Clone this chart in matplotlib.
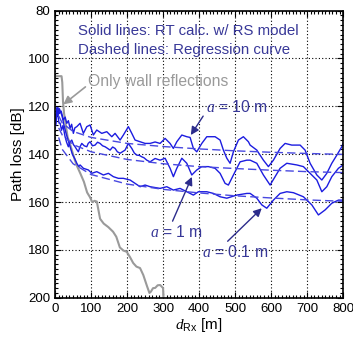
import numpy as np
import matplotlib
matplotlib.use('Agg')
import matplotlib.pyplot as plt
from matplotlib.ticker import MultipleLocator

plt.rcParams['font.family'] = ['Liberation Sans', 'DejaVu Sans']
plt.rcParams['mathtext.fontset'] = 'custom'
plt.rcParams['mathtext.it'] = 'Liberation Serif:italic'
plt.rcParams['mathtext.rm'] = 'Liberation Sans'

# only wall reflections (gray)
d_wall = [0, 18, 20, 22, 25, 30, 35, 40, 43, 50, 55, 61, 70, 80, 89, 97, 103, 110, 116,
          120, 125, 135, 148, 161, 170, 180, 190, 199, 208, 217, 226, 236, 245, 255,
          262, 266, 272, 278, 285, 292, 297, 300, 301]
pl_wall = [107.4, 107.4, 110, 118, 123, 128, 133, 135, 136.5, 140, 142.5, 145, 148, 151.5,
           156, 158, 160, 159.5, 159.8, 163, 167, 169, 170.5, 172.4, 174.5, 179, 180.3,
           180.8, 183, 185.5, 187, 187.6, 190.5, 195, 198, 197.5, 196, 195.9, 194.8,
           194.7, 195.5, 196, 200]

# RT calc, a = 10 m
d_a10 = [2, 5, 8, 12, 17, 23, 28, 32.5, 37, 41.7, 46, 50.8, 55, 60.3, 69.4, 78.6, 88.1,
         97.2, 106.4, 115.8, 129.7, 143.6, 157.5, 166.7, 180.6, 189.7, 203.6, 213.1,
         222.2, 236.1, 250, 263.9, 277.8, 291.7, 305.6, 319.4, 328.6, 338.1, 352, 365.8,
         375, 384.2, 393.6, 407.5, 421.4, 444.4, 458.3, 467.5, 477, 486.1, 495.3, 509.2,
         523, 537, 541.7, 560.3, 578.6, 592.5, 606.4, 625, 638.9, 657.5, 680.6, 694.4,
         708.3, 727, 740.9, 754.7, 768.6, 782.5, 796.4, 800]
pl_a10 = [127, 121, 120.5, 123, 122, 125.7, 124.5, 127.1, 126, 129.2, 127.5, 131.3, 129,
          128.5, 127.1, 131.3, 128.5, 127.8, 132.0, 129.9, 131.3, 130.6, 132.7, 131.3,
          134.1, 132.0, 128.5, 131.3, 134.1, 134.8, 135.5, 135.5, 134.9, 135.5, 133.4,
          135.5, 137.6, 134.8, 132.0, 132.7, 133.0, 137.6, 139.0, 135.5, 132.7, 132.7,
          134.1, 138.3, 141.7, 143.8, 139.0, 134.1, 132.7, 134.8, 136.2, 138.3, 142.5,
          145.2, 142.5, 137.6, 135.5, 136.2, 136.2, 138.3, 143.8, 148.7, 150.8, 148.0,
          143.8, 140.4, 136.9, 135.5]

# RT calc, a = 1 m
d_a1 = [2, 5, 8, 11, 13.9, 18, 22, 27.8, 32, 36.9, 41, 46.4, 51, 55.6, 60, 64.7, 69, 74.2,
        81, 88.1, 92, 97.2, 104, 111.1, 118, 125, 132, 138.9, 145, 152.8, 160, 166.7, 173,
        180.6, 187, 194.4, 203.6, 208, 213.1, 220, 227, 234, 240.8, 247, 254.7, 263.9,
        277.8, 291.7, 305.6, 319.4, 328.6, 338.1, 352, 365.8, 379.7, 393.6, 407.5, 425.8,
        444.4, 458.3, 472.2, 481.4, 495.3, 513.9, 532.5, 541.7, 560.3, 578.6, 597.2,
        611.1, 625, 643.6, 671.4, 689.7, 708.3, 727, 740.9, 754.7, 768.6, 787, 800]
pl_a1 = [124, 120.5, 124, 127, 127.0, 130, 128, 132.7, 135, 136.9, 135, 134.1, 136, 136.9,
         138, 139.0, 137, 135.5, 136.5, 136.9, 135.5, 134.8, 136.5, 136.2, 135, 135.5,
         136.5, 136.9, 137.5, 138.3, 137, 137.6, 139, 139.6, 139, 138.3, 135.5, 136.5,
         137.6, 139.5, 140.4, 140.5, 141.1, 141.5, 142.5, 143.2, 141.8, 142.5, 141.7,
         145.9, 149.4, 145.9, 141.7, 143.8, 148.7, 146.6, 145.2, 145.2, 145.9, 148.0,
         152.2, 152.9, 148.7, 143.2, 142.5, 142.5, 143.8, 148.7, 152.9, 149.4, 145.9,
         143.8, 144.5, 145.2, 148.0, 150.8, 155.7, 153.6, 149.4, 145.9, 144.5]

# RT calc, a = 0.1 m
d_a01 = [2, 5, 8, 12, 19.4, 25, 30, 36, 42, 48, 55, 61, 66, 69.4, 78.6, 92.5, 101.9, 115.8,
         134.2, 148.1, 161.9, 175.8, 189.7, 208.3, 222.2, 236.1, 250, 263.9, 291.7, 310.3,
         328.6, 347.2, 365.8, 384.2, 398, 421.4, 439.7, 458.3, 477, 504.7, 532.5, 541.7,
         560.3, 574.2, 588, 606.4, 625, 643.6, 662, 689.7, 713.1, 731.4, 750, 768.6, 787,
         800]
pl_a01 = [128, 122, 124, 121, 124, 128, 131, 134, 137, 140, 142, 144, 145.2, 144.5, 145.9,
          146.6, 148.0, 147.3, 148.7, 148.0, 149.4, 150.1, 150.1, 150.8, 152.2, 153.6,
          152.9, 153.6, 154.3, 153.6, 155.0, 154.3, 155.7, 157.1, 155.7, 155.7, 156.4,
          157.8, 158.4, 157.1, 156.4, 156.4, 158.4, 161.2, 162.6, 159.2, 156.4, 155.7,
          156.1, 157.8, 161.2, 165.4, 163.3, 160.5, 159.2, 159.2]

# regression curves
d_reg = [10, 20, 50, 100, 200, 300, 400, 500, 600, 700, 800]
reg_a10 = [124, 127, 130.5, 133, 135.5, 136.8, 137.8, 138.6, 139.2, 139.7, 140.1]
reg_a1 = [129, 132, 136, 139, 142.2, 144, 145.2, 146, 146.7, 147.3, 147.7]
reg_a01 = [133, 138, 144, 148.5, 152.5, 154.7, 156.2, 157.4, 158.3, 159.1, 159.7]

blue = '#1c1ce0'
dash_blue = '#4848e0'
txt = '#383898'
arrow_c = '#2c2c8c'
gray = '#9a9a9a'

fig = plt.figure(figsize=(3.53, 3.43), dpi=100)
ax = fig.add_axes([0.156, 0.132, 0.816, 0.837])

ax.plot(d_wall, pl_wall, color=gray, lw=1.5, clip_on=True)
for d, pl in [(d_a10, pl_a10), (d_a1, pl_a1), (d_a01, pl_a01)]:
    ax.plot(d, pl, color=blue, lw=1.0)
for reg in [reg_a10, reg_a1, reg_a01]:
    ax.plot(d_reg, reg, color=dash_blue, lw=1.0, dashes=(6, 3))

ax.set_xlim(0, 800)
ax.set_ylim(200, 80)
ax.xaxis.set_major_locator(MultipleLocator(100))
ax.xaxis.set_minor_locator(MultipleLocator(10))
ax.yaxis.set_major_locator(MultipleLocator(20))
ax.yaxis.set_minor_locator(MultipleLocator(2))
ax.tick_params(which='both', direction='in', top=True, right=True, labelsize=9.5,
               width=0.8, colors='black')
ax.tick_params(which='major', length=4)
ax.tick_params(which='minor', length=2)
ax.grid(True, which='major', color='black', linestyle=(0, (1, 2)), lw=0.8)
for s in ax.spines.values():
    s.set_linewidth(1.2)

ax.set_ylabel('Path loss [dB]', fontsize=11, labelpad=2)
ax.set_xlabel(r'$d_{\mathrm{Rx}}$ [m]', fontsize=11, labelpad=1)

ax.text(64, 88.4, 'Solid lines: RT calc. w/ RS model', color=txt, fontsize=10.8,
        va='center', ha='left')
ax.text(64, 96.3, 'Dashed lines: Regression curve', color=txt, fontsize=10.8,
        va='center', ha='left')

ax.annotate('Only wall reflections', xy=(23, 119.2), xytext=(92, 109.7), color=gray,
            fontsize=11.3, va='center', ha='left',
            arrowprops=dict(arrowstyle='-|>', color=gray, lw=1.2, mutation_scale=12,
                            shrinkA=0, shrinkB=0, relpos=(0, 0.3)))
ax.annotate(r'$a$ = 10 m', xy=(377, 132), xytext=(419, 120.3), color=txt, fontsize=11.3,
            va='center', ha='left',
            arrowprops=dict(arrowstyle='-|>', color=arrow_c, lw=1.0, mutation_scale=12,
                            shrinkA=0, shrinkB=0, relpos=(0, 0.2)))
ax.annotate(r'$a$ = 1 m', xy=(380, 149.5), xytext=(264, 172.5), color=txt, fontsize=11.3,
            va='center', ha='left',
            arrowprops=dict(arrowstyle='-|>', color=arrow_c, lw=1.0, mutation_scale=12,
                            shrinkA=0, shrinkB=0, relpos=(0.4, 1.0)))
ax.annotate(r'$a$ = 0.1 m', xy=(574, 162.6), xytext=(407, 180.9), color=txt,
            fontsize=11.3, va='center', ha='left',
            arrowprops=dict(arrowstyle='-|>', color=arrow_c, lw=1.0, mutation_scale=12,
                            shrinkA=0, shrinkB=0, relpos=(0.35, 1.0)))

fig.savefig('out.png', dpi=100)
